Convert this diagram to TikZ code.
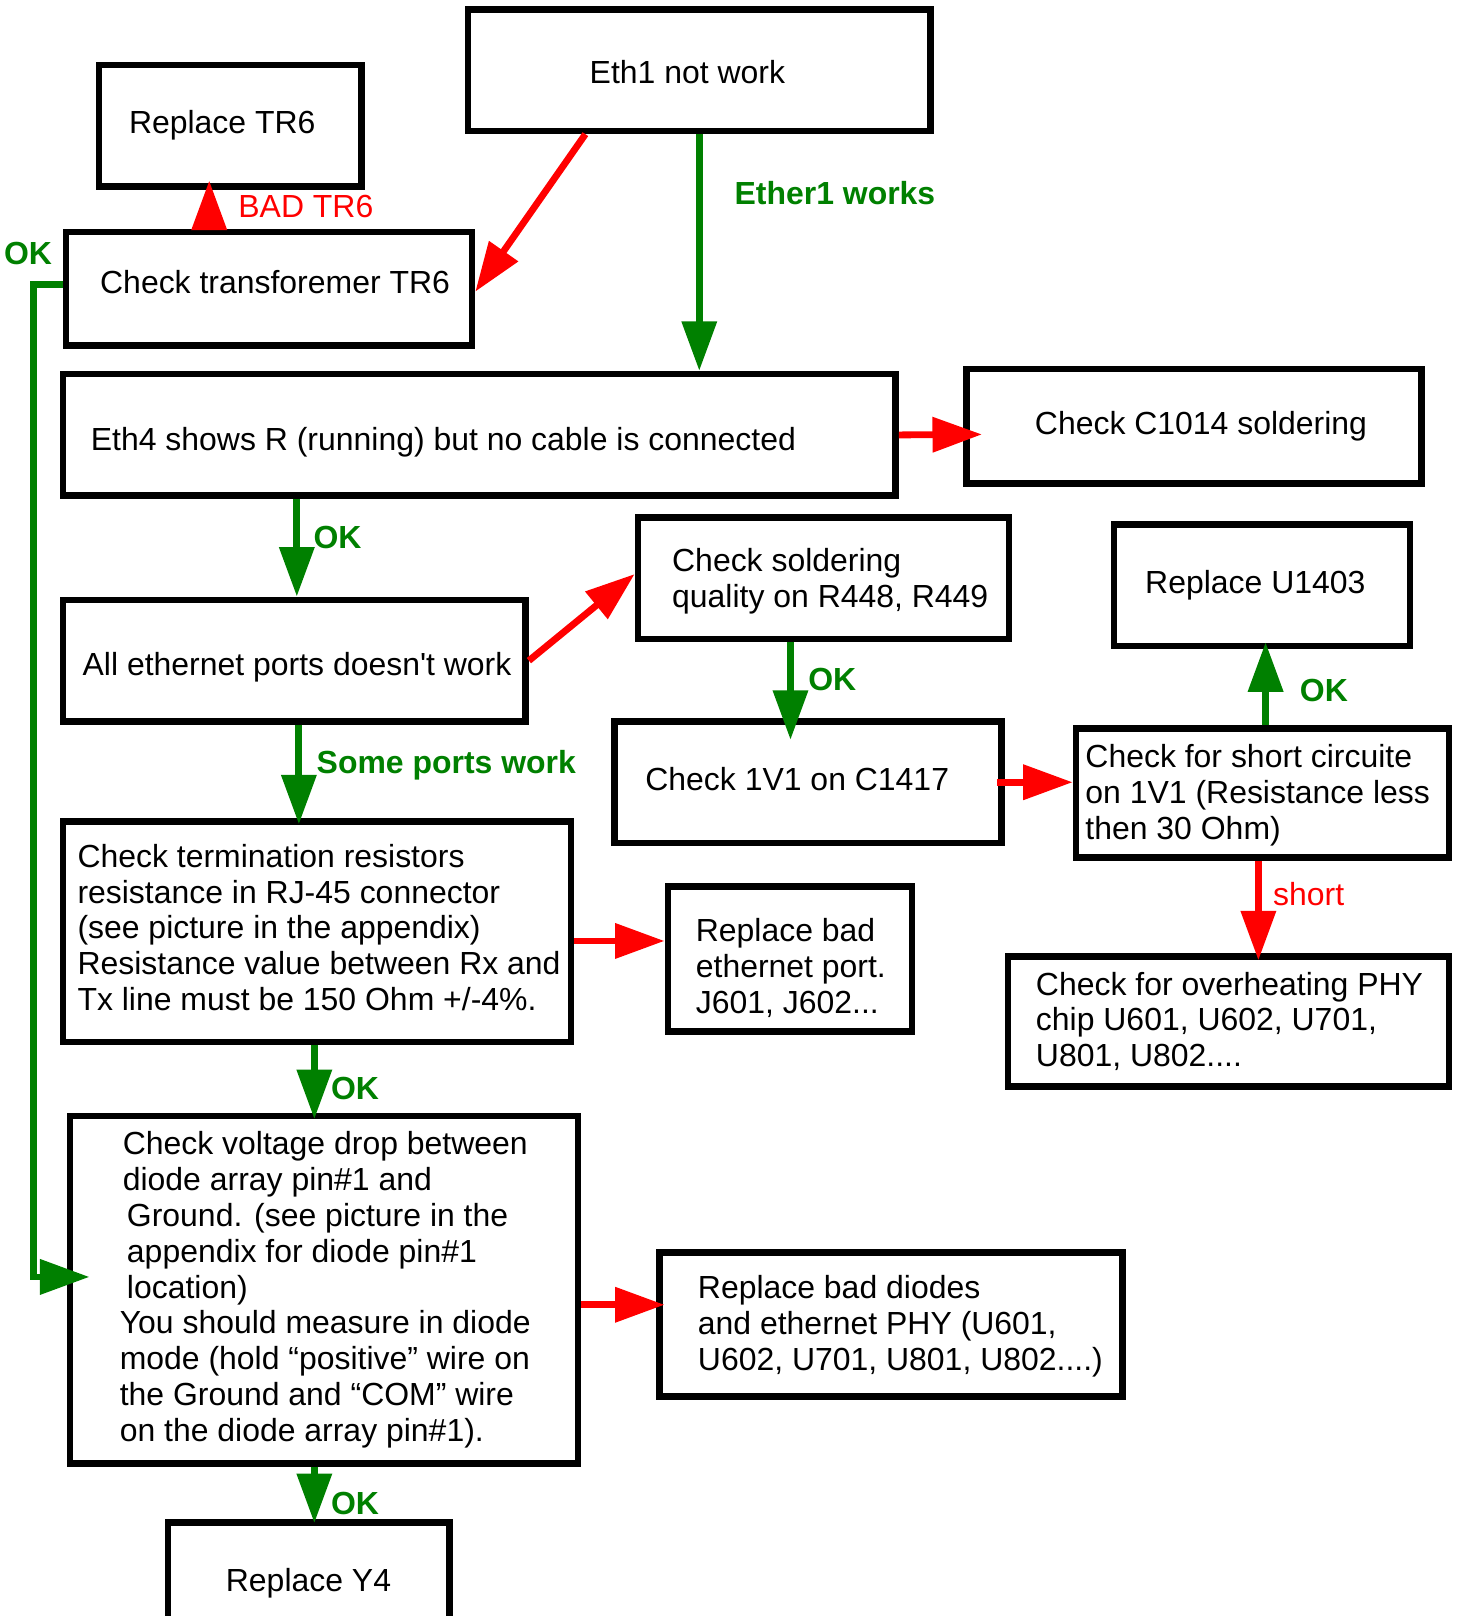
\documentclass[tikz,border=0pt]{standalone}
\usepackage{fontspec}
\setmainfont{Liberation Sans}
\usetikzlibrary{arrows.meta,calc,positioning}
\definecolor{qq8qqq}{rgb}{0,0.5,0}
\definecolor{ffqqqq}{rgb}{1,0,0}

\tikzset{
  box/.style={draw, line width=3.2pt, inner sep=0pt},
  txt/.style={anchor=west, align=left, inner sep=0pt, font=\fontsize{15.5}{17.4}\selectfont},
  redline/.style={draw=ffqqqq, line width=3.3pt, -{Triangle[length=24pt,width=16.5pt]}},
  greenline/.style={draw=qq8qqq, line width=3.3pt, -{Triangle[length=24pt,width=16.5pt]}},
  okl/.style={inner sep=0pt, text=qq8qqq, font=\fontsize{15.5}{17.4}\selectfont\bfseries},
  badl/.style={inner sep=0pt, text=ffqqqq, font=\fontsize{15.5}{17.4}\selectfont}
}

\begin{document}
\begin{tikzpicture}[line cap=butt,line join=miter,x=0.5pt,y=-0.5pt]
	\useasboundingbox (0,0) rectangle (1415,1568);
	\clip (0,0) rectangle (1415,1568);
	% boxes
	\node[box, minimum width=224.5pt, minimum height=59pt, label={[txt,xshift=60.5pt,yshift=-1pt]west:{Eth1 not work}}] (eth1) at (678.5,68) {};
	\node[box, minimum width=127.5pt, minimum height=59pt, label={[txt,xshift=16pt]west:{Replace TR6}}] (rtr) at (223.5,122) {};
	\node[box, minimum width=197pt, minimum height=55pt, label={[txt,xshift=18pt,yshift=3pt]west:{Check transforemer TR6}}] (chk) at (261,280) {};
	\node[box, minimum width=404pt, minimum height=59pt, label={[txt,xshift=15pt,yshift=-3.5pt]west:{Eth4 shows R (running) but no cable is connected}}] (eth4) at (465,422) {};
	\node[box, minimum width=220.5pt, minimum height=55.5pt, label={[txt,xshift=34.5pt]west:{Check C1014 soldering}}] (c1014) at (1158.5,413.5) {};
	\node[box, minimum width=180pt, minimum height=59pt, label={[txt,xshift=18pt,yshift=-1.4pt]west:{Check soldering\\quality on R448, R449}}] (solder) at (799,561) {};
	\node[box, minimum width=143.5pt, minimum height=59pt, label={[txt,xshift=16.5pt]west:{Replace U1403}}] (u1403) at (1224.5,568) {};
	\node[box, minimum width=224.5pt, minimum height=59pt, label={[txt,xshift=11pt,yshift=-3pt]west:{All ethernet ports doesn\textquotesingle t work}}] (all) at (285.5,641) {};
	\node[box, minimum width=188pt, minimum height=59pt, label={[txt,xshift=16.5pt,yshift=1.5pt]west:{Check 1V1 on C1417}}] (c1417) at (784,759) {};
	\node[box, minimum width=181pt, minimum height=62.5pt, label={[txt,xshift=6pt,yshift=-1.1pt]west:{Check for short circuite\\on 1V1 (Resistance less\\then 30 Ohm)}}] (shortc) at (1225,769.5) {};
	\node[box, minimum width=246.5pt, minimum height=107pt, label={[txt,xshift=8.5pt,yshift=2pt]west:{Check termination resistors\\resistance in RJ-45 connector\\(see picture in the appendix)\\Resistance value between Rx and\\Tx line must be 150 Ohm +/-4\%.}}] (term) at (307.5,904) {};
	\node[box, minimum width=118.5pt, minimum height=70.5pt, label={[txt,xshift=15pt,yshift=-4.25pt]west:{Replace bad\\ethernet port.\\J601, J602...}}] (port) at (766.5,930.5) {};
	\node[box, minimum width=214pt, minimum height=63pt, label={[txt,xshift=15pt]west:{Check for overheating PHY\\chip U601, U602, U701,\\U801, U802....}}] (heat) at (1192,991) {};
	\node[box, minimum width=246.5pt, minimum height=168.5pt, label={[txt,xshift=25.5pt]west:{\hspace*{1.5pt}Check voltage drop between\\\hspace*{1.5pt}diode array pin\#1 and\\\hspace*{3.5pt}Ground. (see picture in the\\\hspace*{3.5pt}appendix for diode pin\#1\\\hspace*{3.5pt}location)\\You should measure in diode\\mode (hold “positive” wire on\\the Ground and “COM” wire\\on the diode array pin\#1).}}] (volt) at (314.5,1251.5) {};
	\node[box, minimum width=224.5pt, minimum height=70pt, label={[txt,xshift=20pt,yshift=-1pt]west:{Replace bad diodes\\and ethernet PHY (U601,\\U602, U701, U801, U802....)}}] (diodes) at (864.5,1285) {};
	\node[box, minimum width=136.5pt, minimum height=59pt, label={[txt,xshift=29.5pt]west:{Replace Y4}}] (y4) at (299.5,1536) {};
	% arrows
	\draw[redline] ($(eth1.south)+(-110.5,0)$) -- ($(chk.east)+(0,3)$);
	\draw[redline] ($(chk.north)+(-58,0)$) -- node[badl,pos=0.45,right=12.5pt] (lbad) {BAD TR6} ($(rtr.south)+(-20.5,-9)$);
	\draw[greenline] (eth1.south) -- node[okl,pos=0.25,right=15.5pt] (lether) {Ether1 works} (eth1.south |- eth4.north);
	\draw[greenline] ($(chk.west)+(0,-4)$) node[okl,anchor=south east,xshift=-3.5pt,yshift=8pt] (lok1) {OK} -| ($(volt.west)+(-32,-12.5)$) -- ($(volt.west)+(22,-12.5)$);
	\draw[redline] (eth4.east) -- ($(c1014.west)+(18,8)$);
	\draw[greenline] ($(eth4.south)+(-177,0)$) -- node[okl,pos=0.39,right=6.5pt] (lok2) {OK} ($(all.north)+(2.5,0)$);
	\draw[redline] (all.east) -- ($(solder.west)+(0,-4)$);
	\draw[greenline] ($(all.south)+(4.5,0)$) -- node[okl,pos=0.41,right=7pt] (lsome) {Some ports work} ($(term.north)+(-17.5,6)$);
	\draw[redline] ($(term.east)+(0,9)$) -- ($(port.west)+(0,-17.5)$);
	\draw[greenline] ($(term.south)+(-2.5,0)$) -- node[okl,pos=0.58,right=6.5pt] (lok3) {OK} ($(volt.north)+(-9.5,6)$);
	\draw[redline] ($(volt.east)+(0,14.5)$) -- ($(diodes.west)+(8,-19)$);
	\draw[greenline] ($(volt.south)+(-9.5,0)$) -- node[okl,pos=0.66,right=6.5pt] (lok4) {OK} ($(y4.north)+(5.5,4)$);
	\draw[greenline] ($(solder.south)+(-32,0)$) -- node[okl,pos=0.38,right=7pt] (lok5) {OK} ($(c1417.north)+(-17,21)$);
	\draw[redline] ($(c1417.east)+(-8,0)$) -- ($(shortc.west)+(0,-10.5)$);
	\draw[greenline] ($(shortc.north)+(3,0)$) -- node[okl,pos=0.42,right=15pt] (lok6) {OK} ($(u1403.south)+(3.5,-7)$);
	\draw[redline] ($(shortc.south)+(-4,0)$) -- node[badl,pos=0.33,right=5.5pt] (lshort) {short} ($(heat.north)+(29,7)$);
\end{tikzpicture}
\end{document}
